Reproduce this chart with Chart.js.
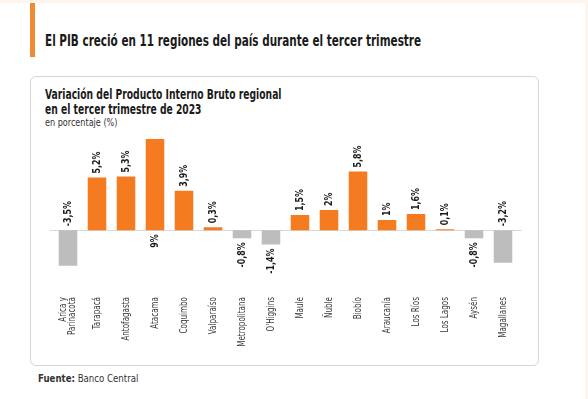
<!DOCTYPE html>
<html>
<head>
<meta charset="utf-8">
<script src="https://cdn.jsdelivr.net/npm/chart.js@4"></script>
<style>
  body { margin: 0; width: 588px; height: 399px; background: #fff; position: relative; overflow: hidden;
         font-family: "DejaVu Sans Condensed", sans-serif; color: #1a1a1a; }
  .franja { position: absolute; left: 0; top: 0; width: 588px; height: 3px; background: #fdf5ee; }
  .franja2 { position: absolute; right: 0; top: 0; width: 3px; height: 399px; background: #fdf5ee; }
  .marca { position: absolute; left: 30px; top: 3px; width: 5px; height: 54px; background: #f08a33; }
  .angosto { position: absolute; transform-origin: 0 0; white-space: nowrap; }
  .titulo { left: 45px; top: 31px; font-size: 16px; font-weight: bold; transform: scaleX(0.725); }
  .tarjeta { position: absolute; left: 30px; top: 76px; width: 507px; height: 288px; border: 1px solid #d6d6d6; border-radius: 6px; }
  .sub { left: 45px; top: 87px; font-size: 14px; font-weight: bold; line-height: 15px; transform: scaleX(0.73); }
  .unidad { left: 45px; top: 117px; font-size: 10px; color: #333; transform: scaleX(0.9); }
  .fuente { left: 38px; top: 372px; font-size: 11px; color: #333; transform: scaleX(0.87); }
  canvas { position: absolute; left: 0; top: 0; }
</style>
</head>
<body>
<div class="franja"></div><div class="franja2"></div>
<div class="marca"></div>
<div class="angosto titulo">El PIB creció en 11 regiones del país durante el tercer trimestre</div>
<div class="tarjeta"></div>
<div class="angosto sub">Variación del Producto Interno Bruto regional<br>en el tercer trimestre de 2023</div>
<div class="angosto unidad">en porcentaje (%)</div>
<div class="angosto fuente"><b>Fuente:</b> Banco Central</div>
<canvas id="grafico" width="588" height="399"></canvas>
<script>
const regiones = [['Arica y', 'Parinacota'], 'Tarapacá', 'Antofagasta', 'Atacama', 'Coquimbo', 'Valparaíso',
  'Metropolitana', "O'Higgins", 'Maule', 'Ñuble', 'Biobío', 'Araucanía', 'Los Ríos', 'Los Lagos', 'Aysén', 'Magallanes'];
const variacion = [-3.5, 5.2, 5.3, 9, 3.9, 0.3, -0.8, -1.4, 1.5, 2, 5.8, 1, 1.6, 0.1, -0.8, -3.2];

const fuente = '"DejaVu Sans Condensed", sans-serif';

function formatear(v) {
  return String(v).replace('.', ',') + '%';
}

// texto girado 90 grados y comprimido a lo largo
function textoVertical(ctx, texto, x, y, alinear, escala) {
  ctx.save();
  ctx.translate(x, y);
  ctx.rotate(-Math.PI / 2);
  ctx.scale(escala, 1);
  ctx.textAlign = alinear;
  ctx.fillText(texto, 0, 0);
  ctx.restore();
}

const etiquetas = {
  id: 'etiquetas',
  beforeDatasetsDraw(chart) {
    const ctx = chart.ctx;
    const cero = chart.scales.y.getPixelForValue(0);
    ctx.save();
    ctx.strokeStyle = '#d9d9d9';
    ctx.lineWidth = 1;
    ctx.beginPath();
    ctx.moveTo(chart.chartArea.left - 4, Math.round(cero) + 0.5);
    ctx.lineTo(chart.chartArea.right + 4, Math.round(cero) + 0.5);
    ctx.stroke();
    ctx.restore();
  },
  afterDatasetsDraw(chart) {
    const ctx = chart.ctx;
    const meta = chart.getDatasetMeta(0);
    const ejeX = chart.scales.x;
    const cero = chart.scales.y.getPixelForValue(0);
    ctx.save();
    ctx.textBaseline = 'middle';
    // valores
    ctx.font = 'bold 11px ' + fuente;
    ctx.fillStyle = '#1a1a1a';
    meta.data.forEach((barra, i) => {
      const v = variacion[i];
      if (v >= 9) textoVertical(ctx, formatear(v), barra.x, cero + 4, 'right', 0.8);
      else if (v >= 0) textoVertical(ctx, formatear(v), barra.x, barra.y - 4, 'left', 0.8);
      else if (v < -3) textoVertical(ctx, formatear(v), barra.x, cero - 4, 'left', 0.8);
      else textoVertical(ctx, formatear(v), barra.x, barra.y + 4, 'right', 0.8);
    });
    // nombres de regiones
    ctx.font = '10px ' + fuente;
    ctx.fillStyle = '#3a3a3a';
    const arriba = ejeX.top + 12;
    regiones.forEach((r, i) => {
      const x = ejeX.getPixelForTick(i);
      const lineas = Array.isArray(r) ? r : [r];
      lineas.forEach((l, j) => {
        const dx = (j - (lineas.length - 1) / 2) * 9;
        textoVertical(ctx, l, x + dx, arriba, 'right', 0.8);
      });
    });
    ctx.restore();
  }
};

new Chart(document.getElementById('grafico'), {
  type: 'bar',
  data: {
    labels: regiones,
    datasets: [{
      data: variacion,
      backgroundColor: variacion.map(v => v >= 0 ? '#f47b20' : '#bdbdbd'),
      barPercentage: 0.64,
      categoryPercentage: 1
    }]
  },
  options: {
    responsive: false,
    animation: false,
    layout: { padding: { left: 53.5, right: 70.5, top: 139, bottom: 40 } },
    plugins: { legend: { display: false }, tooltip: { enabled: false } },
    scales: {
      x: {
        grid: { display: false },
        border: { display: false },
        ticks: { display: false },
        afterFit: (scale) => { scale.height = 74; }
      },
      y: {
        display: false,
        min: -5.4,
        max: 9
      }
    }
  },
  plugins: [etiquetas]
});
</script>
</body>
</html>
